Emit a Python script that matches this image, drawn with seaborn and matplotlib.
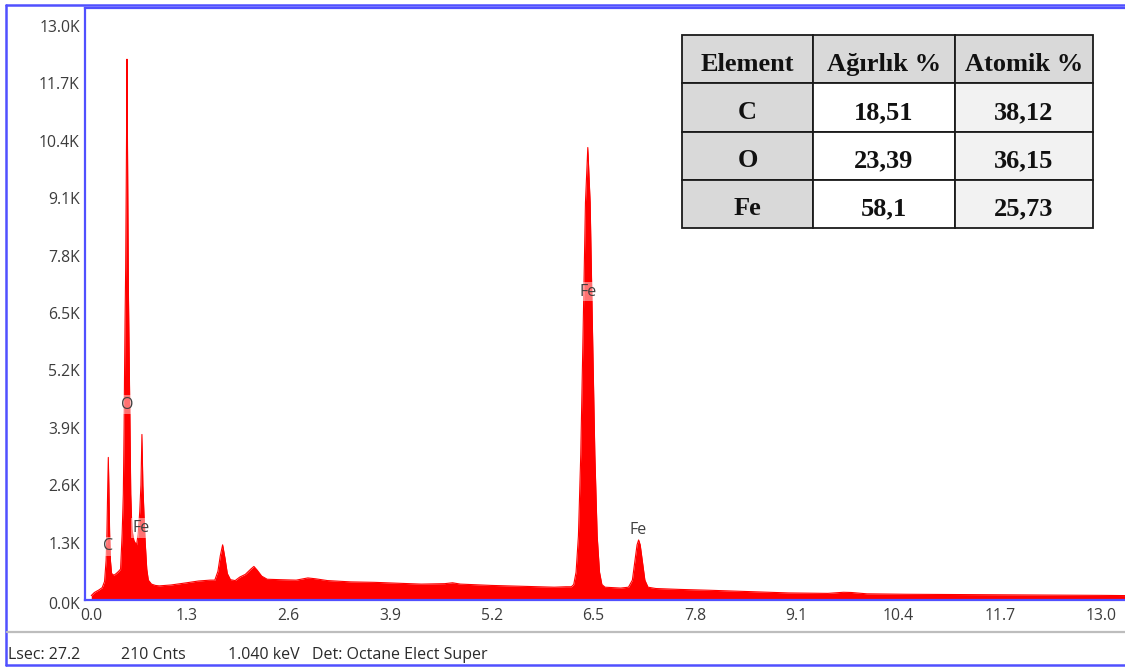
import matplotlib
matplotlib.use("Agg")
import matplotlib.pyplot as plt
from matplotlib.lines import Line2D
from matplotlib.ticker import FixedLocator, FuncFormatter
from matplotlib.transforms import ScaledTranslation
import seaborn as sns
import pandas as pd

# EDS spectrum: energy (keV) and counts, traced channel readings
low_kev = [0.08, 0.12, 0.18, 0.22, 0.25, 0.27, 0.28, 0.29, 0.298, 0.306, 0.315,
           0.325, 0.34, 0.37, 0.40, 0.43, 0.455, 0.475, 0.49, 0.50, 0.505, 0.512,
           0.52, 0.527, 0.533, 0.537, 0.541, 0.547, 0.555, 0.565, 0.575, 0.585,
           0.60, 0.625, 0.64, 0.66, 0.68, 0.70, 0.715, 0.728, 0.74, 0.755, 0.77,
           0.79, 0.81, 0.85, 0.90]
low_counts = [100, 170, 230, 280, 420, 900, 1500, 2500, 3230, 2500, 1500,
              900, 600, 560, 600, 650, 700, 1500, 2400, 3900, 5000, 6300,
              7500, 9300, 11000, 12250, 11000, 9300, 7000, 5500, 4000, 2400,
              1600, 1350, 1300, 1250, 1500, 2000, 2600, 3750, 2600, 1900, 1300,
              700, 450, 360, 330]

mid_kev = [0.95, 1.10, 1.30, 1.45, 1.60, 1.66, 1.70, 1.73, 1.76, 1.79, 1.82,
           1.86, 1.92, 1.98, 2.05, 2.12, 2.16, 2.20, 2.26, 2.33, 2.50, 2.70,
           2.85, 2.95, 3.10, 3.40, 3.70, 4.00, 4.30, 4.60, 4.70, 4.80, 5.20,
           5.60, 6.00, 6.15]
mid_counts = [320, 340, 390, 430, 450, 450, 650, 1000, 1250, 950, 600,
              460, 440, 520, 580, 700, 760, 680, 540, 470, 460, 450,
              500, 480, 440, 410, 400, 380, 360, 370, 390, 360, 330,
              310, 290, 300]

fe_k_kev = [6.22, 6.25, 6.28, 6.31, 6.34, 6.37, 6.40, 6.43, 6.46, 6.49, 6.52,
            6.55, 6.58, 6.61, 6.65, 6.85, 6.95, 7.00, 7.03, 7.06, 7.08, 7.10,
            7.13, 7.16, 7.20, 7.30]
fe_k_counts = [300, 350, 630, 1450, 3300, 6100, 9000, 10250, 9000, 6100, 3300,
               1450, 630, 350, 290, 270, 290, 450, 850, 1250, 1360, 1250,
               850, 450, 290, 260]

high_kev = [7.60, 8.00, 8.50, 9.00, 9.50, 9.70, 9.80, 10.00, 10.50, 11.00,
            12.00, 13.00, 13.30]
high_counts = [240, 220, 190, 160, 150, 175, 170, 140, 130, 125,
               115, 105, 100]

# Peak identification labels
peak_names = ["C", "O", "Fe", "Fe", "Fe"]
peak_kev = [0.29, 0.54, 0.72, 6.43, 7.08]
peak_label_counts = [1220, 4420, 1630, 6980, 1590]

# Quantification table
elements = ["C", "O", "Fe"]
weight_pct = ["18,51", "23,39", "58,1"]
atomic_pct = ["38,12", "36,15", "25,73"]
table_header = ["Element", "Ağırlık %", "Atomik %"]

x_ticks = [0.0, 1.3, 2.6, 3.9, 5.2, 6.5, 7.8, 9.1, 10.4, 11.7, 13.0]
y_ticks = [0, 1300, 2600, 3900, 5200, 6500, 7800, 9100, 10400, 11700, 13000]

status_texts = ["Lsec: 27.2", "210 Cnts", "1.040 keV", "Det: Octane Elect Super"]
status_x_px = [8, 121, 228, 312]

sns.set_style("white")
plt.rcParams["font.family"] = ["Open Sans", "DejaVu Sans"]

W, H = 1125, 668
fig = plt.figure(figsize=(W / 100, H / 100), dpi=100)

ax_left, ax_right, ax_top, ax_bottom = 85, 1125, 8, 600
ax = fig.add_axes([ax_left / W, (H - ax_bottom) / H,
                   (ax_right - ax_left) / W, (ax_bottom - ax_top) / H])

spec = pd.DataFrame({
    "kev": low_kev + mid_kev + fe_k_kev + high_kev,
    "counts": low_counts + mid_counts + fe_k_counts + high_counts,
})

red = "#ff0000"
ax.fill_between(spec["kev"], spec["counts"], 0, color=red, lw=0, zorder=2)
sns.lineplot(data=spec, x="kev", y="counts", color=red, lw=0.8, ax=ax,
             sort=False, zorder=3)

ax.set_xlim(0, 13.30)
ax.set_ylim(0, 13410)
ax.set_xlabel("")
ax.set_ylabel("")

ax.xaxis.set_major_locator(FixedLocator(x_ticks))
ax.yaxis.set_major_locator(FixedLocator(y_ticks))
ax.xaxis.set_major_formatter(FuncFormatter(lambda v, p: f"{v:.1f}"))
ax.yaxis.set_major_formatter(FuncFormatter(lambda v, p: f"{v / 1000:.1f}K"))
ax.tick_params(axis="both", colors="#8a8a8a", labelcolor="#3c3c3c",
               labelsize=11.3, length=2.5, width=0.8, direction="out")
ax.tick_params(axis="x", pad=3.5)
ax.tick_params(axis="y", pad=1.2)

# nudge the two origin labels apart as in the instrument software
xl = ax.get_xticklabels()
xl[0].set_transform(xl[0].get_transform() +
                    ScaledTranslation(6 / 100, 0, fig.dpi_scale_trans))
yl = ax.get_yticklabels()
yl[0].set_transform(yl[0].get_transform() +
                    ScaledTranslation(0, -3 / 100, fig.dpi_scale_trans))

blue = "#5050ff"
for side in ["left", "top", "bottom"]:
    ax.spines[side].set_color(blue)
    ax.spines[side].set_linewidth(1.6)
ax.spines["right"].set_visible(False)

for name, kx, ky in zip(peak_names, peak_kev, peak_label_counts):
    ax.text(kx, ky, name, ha="center", va="center", fontsize=11.5,
            color="#404040", zorder=5,
            bbox=dict(boxstyle="square,pad=0.1", fc="white", ec="none",
                      alpha=0.45))

# Quantification table
cells = [[e, w, a] for e, w, a in zip(elements, weight_pct, atomic_pct)]
tx0, tx1, ty0, ty1 = 682, 1093, 35, 228
tbl = ax.table(cellText=[table_header] + cells,
               colWidths=[131 / 411, 142 / 411, 138 / 411],
               cellLoc="center",
               bbox=[(tx0 - ax_left) / (ax_right - ax_left),
                     (ax_bottom - ty1) / (ax_bottom - ax_top),
                     (tx1 - tx0) / (ax_right - ax_left),
                     (ty1 - ty0) / (ax_bottom - ax_top)])
tbl.auto_set_font_size(False)
text_shift = ScaledTranslation(0, -5 / 100, fig.dpi_scale_trans)
for (r, c), cell in tbl.get_celld().items():
    cell.set_edgecolor("#1a1a1a")
    cell.set_linewidth(1.3)
    if r == 0 or c == 0:
        cell.set_facecolor("#d9d9d9")
    elif c == 1:
        cell.set_facecolor("#ffffff")
    else:
        cell.set_facecolor("#f2f2f2")
    t = cell.get_text()
    t.set_fontfamily("Liberation Serif")
    t.set_fontweight("bold")
    t.set_fontsize(19)
    t.set_color("#111111")
    t.set_transform(text_shift)
tbl.set_zorder(6)

# Window frame and status bar
frame_kw = dict(color=blue, lw=1.8, transform=fig.transFigure)
fig.add_artist(Line2D([6 / W, 1.0], [1 - 4.5 / H, 1 - 4.5 / H], **frame_kw))
fig.add_artist(Line2D([6 / W, 6 / W], [1 - 4.5 / H, 1 - 665 / H], **frame_kw))
fig.add_artist(Line2D([6 / W, 1.0], [1 - 665 / H, 1 - 665 / H], **frame_kw))
fig.add_artist(Line2D([7 / W, 1.0], [1 - 632 / H, 1 - 632 / H],
                      color="#bdbdbd", lw=1.6, transform=fig.transFigure))

for txt, px in zip(status_texts, status_x_px):
    fig.text(px / W, 1 - 655 / H, txt, ha="left", va="center",
             fontsize=11.5, color="#2a2a2a")

fig.savefig("out.png", dpi=100)
